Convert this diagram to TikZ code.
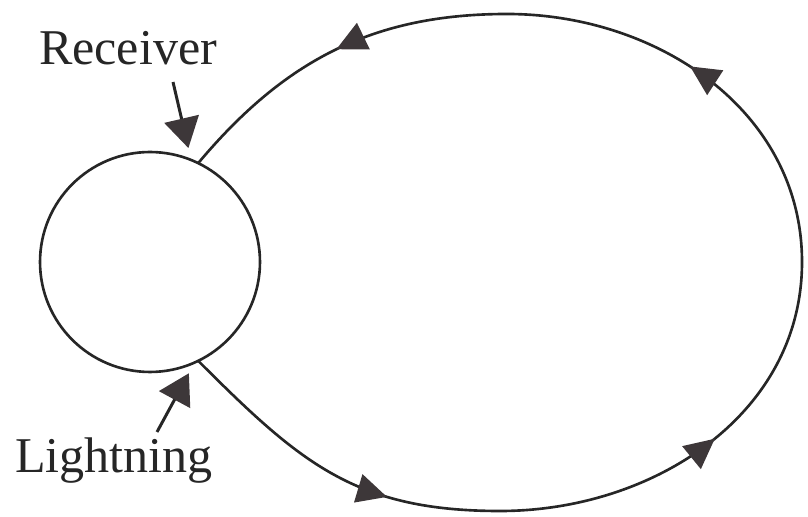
\documentclass[tikz,border=0pt]{standalone}
\usepackage{fontspec}
\setmainfont{Liberation Serif}
\usetikzlibrary{arrows.meta, positioning, calc, decorations.markings}
\definecolor{ink}{HTML}{262626}
\definecolor{tipgray}{HTML}{3D3739}

\begin{document}
\begin{tikzpicture}[
    x=0.02cm, y=0.02cm,
    >={Triangle[length=6mm, width=7mm, color=tipgray]},
    midtip/.tip={Triangle[length=6mm, width=5.8mm, color=tipgray]},
    sat/.style={
      circle, draw=ink, line width=1.5pt, minimum size=4.4cm,
      inner sep=0pt, outer sep=0pt
    },
    lbl/.style={font=\fontsize{28.5}{32}\selectfont, text=ink, inner sep=0pt, anchor=base},
    pointer/.style={->, line width=1.7pt, ink, shorten >=7pt},
    orbit/.style={
      line width=1.5pt, ink, postaction=decorate,
      decoration={markings,
        mark=at position 0.15 with {\arrow{midtip}},
        mark=at position 0.37 with {\arrow{midtip}},
        mark=at position 0.65 with {\arrow{midtip}},
        mark=at position 0.885 with {\arrow{midtip}}}
    }
  ]
  \useasboundingbox (0,0) rectangle (808,517);

  % Receiver sphere
  \node[sat] (sat) at (150,255) {};

  % Labels
  \node[lbl] (rlbl) at (128,452) {Receiver};
  \node[lbl] (llbl) at (114,44)  {Lightning};
  \coordinate (rtail) at (173,435);
  \coordinate (ltail) at (157,85);

  % Pointers to the sphere
  \draw[pointer] (rtail) -- (sat.68);
  \draw[pointer] (ltail) -- (sat.-66);

  % Propagation loop
  \coordinate (bot) at (500,6);
  \coordinate (rgt) at (802,255);
  \coordinate (top) at (507,503);
  \draw[orbit] (sat.-64) to[out=-45, in=180, looseness=1.1] (bot)
                         to[out=0, in=-90]   (rgt)
                         to[out=90, in=0]    (top)
                         to[out=180, in=50]  (sat.64);

\end{tikzpicture}
\end{document}
